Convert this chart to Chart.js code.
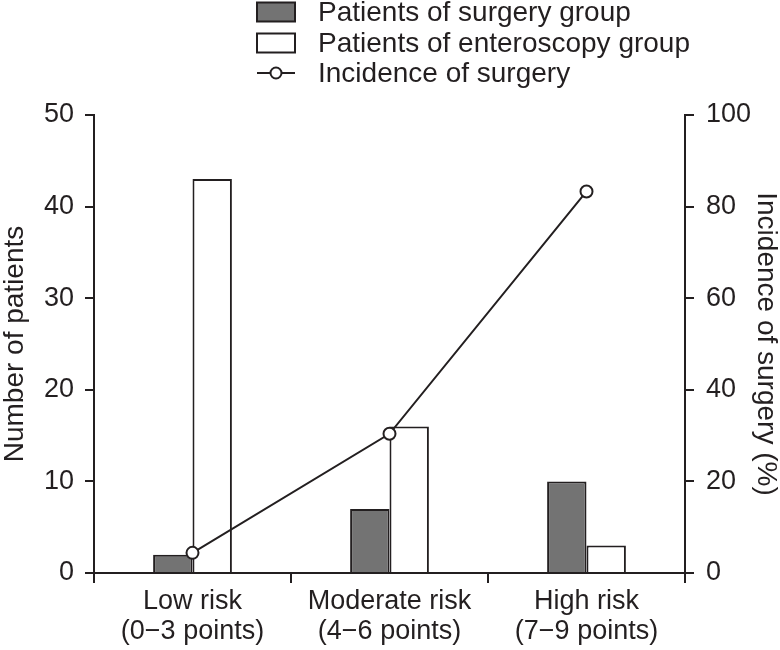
<!DOCTYPE html>
<html>
<head>
<meta charset="utf-8">
<script src="https://cdn.jsdelivr.net/npm/chart.js@4.4.1/dist/chart.umd.min.js"></script>
<style>
  body { margin: 0; background: #fff; }
  #wrap { width: 780px; height: 650px; }
</style>
</head>
<body>
<div id="wrap"><canvas id="chart" width="780" height="650"></canvas></div>
<script>
/*-------- DATA ---------------- */
const riskGroups = [
  ["Low risk", "(0\u22123 points)"],
  ["Moderate risk", "(4\u22126 points)"],
  ["High risk", "(7\u22129 points)"]
];
const surgeryPatients = [2, 7, 10];
const enteroscopyPatients = [43, 16, 3];
const surgeryIncidence = [4.4, 30.4, 83.3];
const patientTicks = [0, 10, 20, 30, 40, 50];
const incidenceTicks = [0, 20, 40, 60, 80, 100];

const ink = "#231f20";
const fontFamily = '"Liberation Sans", Arial, Helvetica, sans-serif';

/*-------- LEGEND (one column, top) ---------------- */
const columnLegend = {
  id: "columnLegend",
  afterDraw(chart) {
    const ctx = chart.ctx;
    const boxX = 257, boxW = 38, boxH = 19, textX = 318;
    const rows = [12, 43, 73];
    ctx.save();
    ctx.font = "28px " + fontFamily;
    ctx.textBaseline = "middle";
    ctx.lineWidth = 2;
    chart.data.datasets.forEach((ds, i) => {
      const y = rows[i];
      ctx.strokeStyle = ink;
      if (ds.type === "line") {
        ctx.beginPath();
        ctx.moveTo(boxX, y);
        ctx.lineTo(boxX + boxW, y);
        ctx.stroke();
        ctx.beginPath();
        ctx.arc(boxX + boxW / 2, y, 5.5, 0, Math.PI * 2);
        ctx.fillStyle = "#fff";
        ctx.fill();
        ctx.stroke();
      } else {
        ctx.fillStyle = ds.backgroundColor;
        ctx.fillRect(boxX, y - boxH / 2, boxW, boxH);
        ctx.strokeRect(boxX, y - boxH / 2, boxW, boxH);
      }
      ctx.fillStyle = ink;
      ctx.fillText(ds.label, textX, y + 1);
    });
    ctx.restore();
  }
};

/*-------- CHART ---------------- */
const ctx = document.querySelector("#chart").getContext("2d");

new Chart(ctx, {
  data: {
    labels: riskGroups,
    datasets: [
      {
        type: "bar",
        label: "Patients of surgery group",
        data: surgeryPatients,
        yAxisID: "y",
        backgroundColor: "#737373",
        borderColor: ink,
        borderWidth: 2,
        categoryPercentage: 0.4,
        barPercentage: 1,
        order: 1
      },
      {
        type: "bar",
        label: "Patients of enteroscopy group",
        data: enteroscopyPatients,
        yAxisID: "y",
        backgroundColor: "#ffffff",
        borderColor: ink,
        borderWidth: 2,
        categoryPercentage: 0.4,
        barPercentage: 1,
        order: 1
      },
      {
        type: "line",
        label: "Incidence of surgery",
        data: surgeryIncidence,
        yAxisID: "y1",
        borderColor: ink,
        borderWidth: 2,
        pointRadius: 6,
        pointBorderWidth: 2,
        pointBackgroundColor: "#fff",
        pointBorderColor: ink,
        tension: 0,
        fill: false,
        order: 0
      }
    ]
  },
  options: {
    responsive: false,
    animation: false,
    layout: { padding: { top: 115, left: 0, right: 0, bottom: 0 } },
    plugins: {
      legend: { display: false },
      tooltip: { enabled: false }
    },
    scales: {
      x: {
        offset: true,
        grid: { offset: true, drawOnChartArea: false, tickLength: 10, color: ink, lineWidth: 2 },
        border: { color: ink, width: 2 },
        ticks: { color: ink, padding: 4, font: { family: fontFamily, size: 27, lineHeight: 1.1 }, maxRotation: 0, autoSkip: false },
        afterFit: (scale) => { scale.height = 77; }
      },
      y: {
        position: "left",
        min: 0,
        max: 50,
        afterBuildTicks: (scale) => { scale.ticks = patientTicks.map((v) => ({ value: v })); },
        grid: { drawOnChartArea: false, tickLength: 9, color: ink, lineWidth: 2 },
        border: { color: ink, width: 2 },
        ticks: { color: ink, padding: 11, font: { family: fontFamily, size: 27 } },
        title: { display: true, text: "Number of patients", color: ink, padding: { top: 0, bottom: 0 }, font: { family: fontFamily, size: 28, lineHeight: 1.1 } },
        afterFit: (scale) => { scale.width = 94; }
      },
      y1: {
        position: "right",
        min: 0,
        max: 100,
        afterBuildTicks: (scale) => { scale.ticks = incidenceTicks.map((v) => ({ value: v })); },
        grid: { drawOnChartArea: false, tickLength: 9, color: ink, lineWidth: 2 },
        border: { color: ink, width: 2 },
        ticks: { color: ink, padding: 12, font: { family: fontFamily, size: 27 } },
        title: { display: true, text: "Incidence of surgery (%)", color: ink, padding: { top: 0, bottom: 0 }, font: { family: fontFamily, size: 28, lineHeight: 1.0 } },
        afterFit: (scale) => { scale.width = 95; }
      }
    }
  },
  plugins: [columnLegend]
});
</script>
</body>
</html>
